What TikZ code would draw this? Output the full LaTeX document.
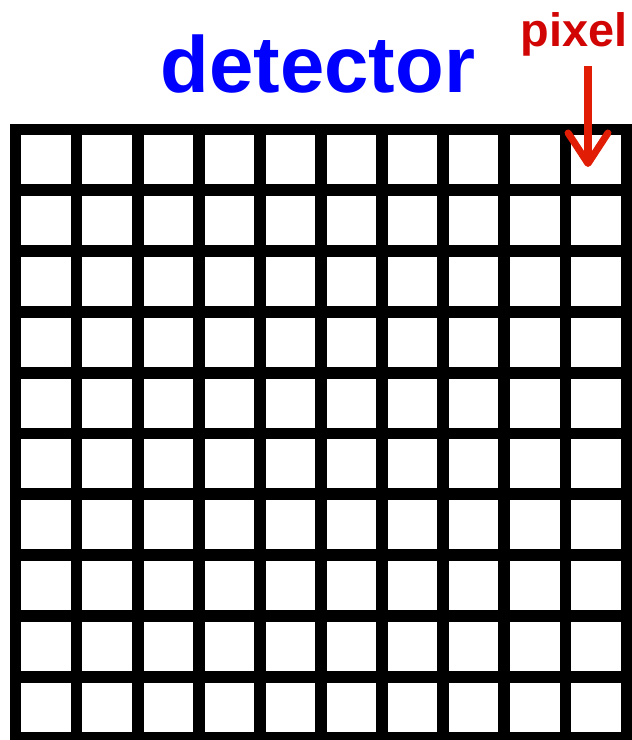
\documentclass[tikz,border=0pt]{standalone}
\usepackage{fontspec}
\setmainfont{Liberation Sans}
\usetikzlibrary{arrows.meta}
\definecolor{titleblue}{RGB}{0,0,255}
\definecolor{labelred}{RGB}{210,5,5}
\definecolor{arrowred}{RGB}{225,30,5}
\begin{document}
\begin{tikzpicture}[x=0.03cm,y=-0.03cm,
  cell/.style={fill=white,minimum width=1.48cm,minimum height=1.47cm,inner sep=0pt},
  pointer/.style={draw=arrowred,line width=6pt,shorten <=8pt,
    -{Straight Barb[length=26pt,width=34pt,line cap=round,line join=round]}}]
  \useasboundingbox (0,0) rectangle (631,740);
  \fill[white] (0,0) rectangle (631,740);
  % labels
  \node[font=\bfseries\fontsize{40}{42}\selectfont,text=labelred,anchor=base east,inner sep=0pt] (pixel) at (628,47) {pixel};
  \node[font=\bfseries\fontsize{68}{70}\selectfont,text=titleblue,anchor=base,inner sep=0pt] (title) at (318,93) {detector};
  % detector grid
  \fill (10,124) rectangle (632,743);
  \foreach \i in {1,...,10}
    \foreach \j in {1,...,10}
      \node[cell] (c-\i-\j) at (46.05+61.1*\i-61.1,159.9+60.8*\j-60.8) {};
  \coordinate (tip) at (588,167);
  \draw[pointer] (pixel.south -| tip) -- (tip);
\end{tikzpicture}
\end{document}
